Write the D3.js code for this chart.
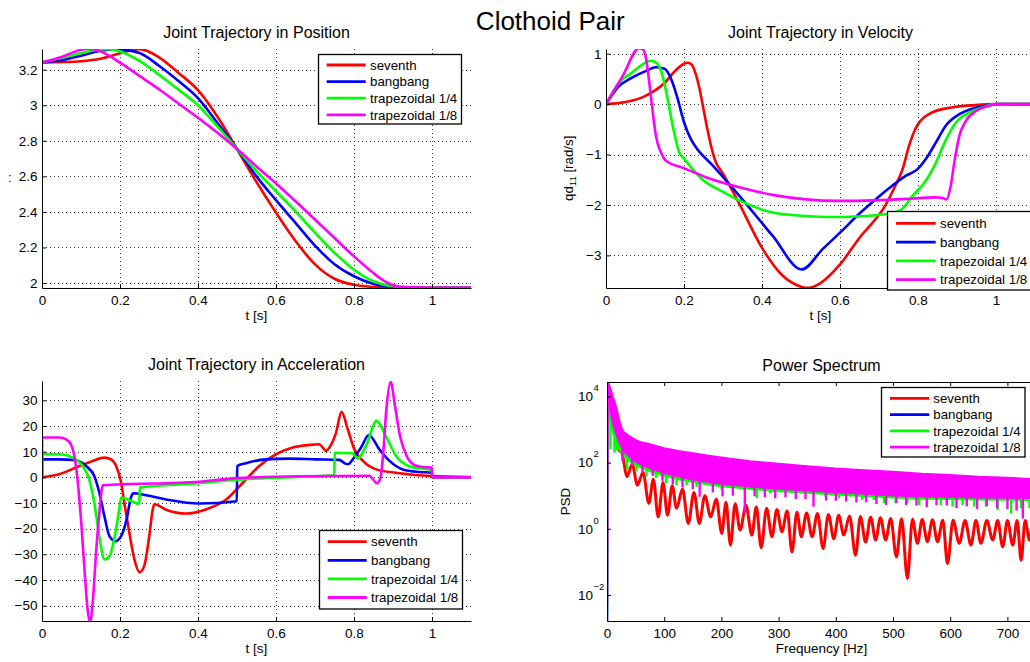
<!DOCTYPE html>
<html>
<head>
<meta charset="utf-8">
<script src="https://cdn.jsdelivr.net/npm/d3@7"></script>
<style>
  body { margin: 0; background: #fff; }
  svg { display: block; font-family: "Liberation Sans", Arial, Helvetica, sans-serif; }
</style>
</head>
<body>
<svg id="fig" width="1030" height="662"></svg>
<script>
// ---------- series ----------
const seriesNames = ["seventh", "bangbang", "trapezoidal 1/4", "trapezoidal 1/8"];
const seriesColors = ["#ff0000", "#0000ff", "#00ff00", "#ff00ff"];

// ---------- ticks ----------
const timeTicks = [0, 0.2, 0.4, 0.6, 0.8, 1];
const posTicks = [2, 2.2, 2.4, 2.6, 2.8, 3, 3.2];
const velTicks = [-3, -2, -1, 0, 1];
const accTicks = [-50, -40, -30, -20, -10, 0, 10, 20, 30];
const freqTicks = [0, 100, 200, 300, 400, 500, 600, 700];
const psdTicks = [1e-2, 1, 1e2, 1e4];

// ---------- joint position [t, q] ----------
const posSeventh = [[0,3.241],[0.05,3.243],[0.1,3.248],[0.15,3.262],[0.2,3.292],[0.25,3.316],[0.3,3.27],[0.35,3.182],[0.4,3.085],[0.45,2.935],[0.5,2.754],[0.55,2.568],[0.6,2.396],[0.65,2.236],[0.7,2.105],[0.75,2.024],[0.8,1.99],[0.85,1.978],[0.9,1.975],[1.1,1.975]];
const posBangbang = [[0,3.241],[0.05,3.253],[0.1,3.279],[0.15,3.307],[0.19,3.316],[0.25,3.294],[0.3,3.222],[0.35,3.136],[0.4,3.04],[0.45,2.9],[0.5,2.754],[0.55,2.6],[0.6,2.466],[0.65,2.338],[0.7,2.21],[0.75,2.106],[0.8,2.038],[0.85,1.995],[0.9,1.978],[0.95,1.975],[1.1,1.975]];
const posTrap4 = [[0,3.241],[0.05,3.266],[0.1,3.294],[0.15,3.314],[0.17,3.316],[0.2,3.303],[0.25,3.25],[0.3,3.172],[0.35,3.088],[0.4,3.0],[0.45,2.88],[0.5,2.754],[0.55,2.63],[0.6,2.516],[0.65,2.403],[0.7,2.283],[0.75,2.17],[0.8,2.075],[0.85,2.01],[0.9,1.982],[0.95,1.976],[1.1,1.975]];
const posTrap8 = [[0,3.241],[0.05,3.272],[0.1,3.312],[0.12,3.318],[0.15,3.303],[0.2,3.24],[0.25,3.165],[0.3,3.09],[0.35,3.01],[0.4,2.93],[0.45,2.845],[0.5,2.754],[0.55,2.656],[0.6,2.56],[0.65,2.46],[0.7,2.357],[0.75,2.253],[0.8,2.15],[0.85,2.056],[0.875,2.015],[0.9,1.988],[0.93,1.977],[1.0,1.975],[1.1,1.975]];

// ---------- joint velocity [t, qd] ----------
const velSeventh = [[0,0],[0.05,0.04],[0.1,0.16],[0.15,0.42],[0.18,0.68],[0.2,0.8],[0.21,0.82],[0.22,0.78],[0.23,0.6],[0.24,0.3],[0.25,-0.1],[0.26,-0.5],[0.27,-0.85],[0.28,-1.12],[0.3,-1.38],[0.34,-1.95],[0.4,-2.85],[0.45,-3.38],[0.5,-3.62],[0.52,-3.645],[0.55,-3.55],[0.6,-3.18],[0.65,-2.65],[0.717,-2.0],[0.74,-1.65],[0.76,-1.3],[0.777,-0.83],[0.79,-0.55],[0.8,-0.4],[0.835,-0.17],[0.886,-0.066],[0.946,-0.02],[1,0],[1.1,0]];
const velBangbang = [[0,0],[0.034,0.36],[0.068,0.53],[0.103,0.66],[0.128,0.73],[0.15,0.7],[0.167,0.5],[0.184,0.1],[0.2,-0.36],[0.218,-0.7],[0.231,-0.86],[0.274,-1.22],[0.342,-1.82],[0.427,-2.61],[0.502,-3.28],[0.556,-2.87],[0.6,-2.55],[0.65,-2.17],[0.7,-1.83],[0.734,-1.62],[0.769,-1.42],[0.799,-1.29],[0.82,-1.09],[0.846,-0.76],[0.872,-0.42],[0.906,-0.2],[0.95,-0.066],[0.99,-0.013],[1,0],[1.1,0]];
const velTrap4 = [[0,0],[0.034,0.43],[0.068,0.63],[0.094,0.79],[0.115,0.86],[0.132,0.8],[0.145,0.56],[0.158,0.1],[0.171,-0.43],[0.188,-0.96],[0.2,-1.08],[0.222,-1.29],[0.248,-1.5],[0.3,-1.74],[0.342,-1.91],[0.427,-2.15],[0.513,-2.22],[0.581,-2.24],[0.641,-2.23],[0.718,-2.18],[0.756,-2.1],[0.786,-1.82],[0.82,-1.52],[0.846,-1.16],[0.872,-0.7],[0.898,-0.36],[0.932,-0.166],[0.966,-0.066],[1,0],[1.1,0]];
const velTrap8 = [[0,0],[0.043,0.56],[0.085,1.11],[0.094,1.09],[0.103,0.89],[0.111,0.43],[0.12,-0.17],[0.128,-0.63],[0.141,-0.96],[0.155,-1.13],[0.2,-1.27],[0.256,-1.45],[0.342,-1.65],[0.427,-1.8],[0.513,-1.89],[0.598,-1.92],[0.684,-1.91],[0.769,-1.88],[0.846,-1.85],[0.862,-1.86],[0.873,-1.89],[0.884,-1.62],[0.893,-1.16],[0.906,-0.63],[0.923,-0.33],[0.95,-0.13],[0.983,-0.033],[1,0],[1.1,0]];

// ---------- joint acceleration [t, qdd] ----------
const accSeventh = [[0,0],[0.044,1.2],[0.096,4.4],[0.13,6.4],[0.16,7.7],[0.177,7.0],[0.19,4.4],[0.203,-2.1],[0.211,-9.9],[0.224,-21.6],[0.237,-32],[0.25,-37],[0.262,-34.6],[0.275,-22.9],[0.284,-12.5],[0.288,-10.5],[0.318,-12.6],[0.369,-14.1],[0.42,-12.5],[0.472,-8.6],[0.515,-2.1],[0.557,4.4],[0.6,9],[0.643,11.6],[0.685,12.6],[0.711,12.9],[0.72,11.6],[0.728,10.3],[0.737,11.6],[0.754,17.4],[0.768,25.5],[0.784,18.75],[0.801,10.9],[0.823,6.4],[0.857,3.1],[0.917,1.6],[1.0,0.5],[1.1,0.1]];
const accBangbang = [[0,0],[0.0005,7],[0.044,7],[0.079,6.8],[0.113,4.4],[0.134,0.5],[0.147,-6],[0.16,-15.1],[0.173,-22.9],[0.188,-24.9],[0.203,-22.9],[0.217,-16.4],[0.228,-7.9],[0.234,-6.2],[0.267,-7],[0.318,-8.6],[0.403,-10.2],[0.4995,-9.3],[0.5005,4.4],[0.523,5.5],[0.574,7],[0.634,7.3],[0.703,7],[0.762,6.8],[0.777,5.4],[0.784,5.1],[0.8,7.7],[0.818,11.6],[0.838,16.5],[0.865,10.9],[0.891,6.4],[0.925,3.1],[0.968,2.1],[0.9995,1.8],[1.0005,0],[1.1,0]];
const accTrap4 = [[0,0],[0.0005,9],[0.044,9],[0.079,7.7],[0.104,4.4],[0.121,-0.8],[0.134,-9.9],[0.147,-22.9],[0.16,-32],[0.173,-30.7],[0.185,-24.2],[0.198,-12.5],[0.203,-7.9],[0.224,-8.9],[0.2495,-10.3],[0.2505,-4],[0.403,-2.3],[0.489,-1],[0.574,-0.3],[0.7495,0.8],[0.7505,9.6],[0.796,9.4],[0.809,7.3],[0.83,12],[0.858,22],[0.882,16],[0.908,8.3],[0.943,4.2],[0.9995,2.7],[1.0005,0],[1.1,0]];
const accTrap8 = [[0,0],[0.0005,15.5],[0.044,15.5],[0.062,14.8],[0.074,12.9],[0.083,8.3],[0.091,-0.8],[0.1,-16.4],[0.109,-36],[0.117,-51.6],[0.123,-56.5],[0.13,-49],[0.138,-30.7],[0.147,-13.8],[0.156,-3.1],[0.403,-1.7],[0.5,-0.3],[0.66,0.4],[0.84,0.6],[0.849,-0.8],[0.859,-2.3],[0.868,-0.1],[0.875,9.6],[0.883,26.6],[0.894,37.2],[0.905,27.9],[0.918,16.1],[0.935,8.3],[0.956,4.7],[0.978,4.0],[0.9995,3.8],[1.0005,0],[1.1,0]];

// ---------- power spectral density (log10 values) ----------
const psdEnvHz = [1,3,5,8,10,13,16,20,25,30,40,50,60,75,100,125,150,175,200,250,300,350,400,450,500,550,600,650,700,750];
const psdMagentaTop = [4.45,4.4,4.3,4.15,4.02,3.88,3.7,3.42,3.08,2.92,2.79,2.69,2.62,2.56,2.44,2.36,2.29,2.22,2.16,2.05,1.97,1.9,1.83,1.78,1.73,1.67,1.63,1.58,1.55,1.5];
const psdMagentaBottom = [4.0,3.8,3.6,3.35,3.18,3.0,2.85,2.65,2.48,2.33,2.16,2.02,1.93,1.83,1.68,1.57,1.48,1.41,1.35,1.27,1.2,1.15,1.1,1.05,1.0,0.97,0.95,0.94,0.93,0.92];
const psdGreenTop = [4.3,4.2,4.1,3.95,3.8,3.6,3.4,3.15,2.9,2.75,2.62,2.52,2.45,2.38,2.27,2.18,2.1,2.03,1.97,1.87,1.79,1.72,1.66,1.6,1.55,1.5,1.46,1.42,1.39,1.36];
const psdGreenBottom = [3.8,3.5,3.25,3.3,2.95,2.7,2.55,2.42,2.3,2.18,2.04,1.92,1.84,1.74,1.6,1.49,1.41,1.34,1.28,1.2,1.13,1.08,1.03,0.98,0.94,0.91,0.89,0.88,0.87,0.86];
const psdBlueTop = [4.35,4.25,4.1,3.9,3.75,3.55,3.35,3.1,2.85,2.7,2.58,2.48,2.4,2.32,2.2,2.1,2.02,1.95,1.9,1.8,1.72,1.65,1.6,1.54,1.5,1.45,1.41,1.38,1.35,1.32];
const psdBlueBottom = [3.9,3.6,3.35,3.2,3.0,2.8,2.65,2.5,2.35,2.25,2.1,1.98,1.9,1.8,1.66,1.55,1.46,1.39,1.33,1.25,1.18,1.12,1.08,1.03,0.99,0.96,0.94,0.92,0.91,0.9];
const psdDcLog = [4.6, -4.0, -2.55, -2.3];

const psdMagentaSpikeHz = [27,44,62,80,97,115,132,150,162,185,202,220,241,258,276,294,312,330,347,361,383,400,418,436,453,471,488,506,523,541,559,576,594,611,629,647,664,682,700,716,727,745];
const psdMagentaSpikeLog = [2.05,1.9,1.7,1.6,1.45,1.35,1.25,1.2,0.97,1.1,0.98,1.0,0.48,0.98,0.95,0.92,0.95,0.9,0.9,0.67,0.85,0.85,0.82,0.8,0.8,0.75,0.72,0.78,0.72,0.7,0.65,0.72,0.7,0.62,0.68,0.6,0.68,0.62,0.6,0.55,0.31,0.6];
const psdGreenSpikeHz = [6,13,17.5,35,51.5,69,85.4,102.9,121.6,139.2,156.7,180.1,200.6,219.9,239.8,262,285.4,302.9,323.4,343.9,361.4,381.9,405.3,425.7,446.2,466.7,484.2,504.7,525.2,545.6,563.2,583.6,604.1,621.6,642.1,662.6,683,706.4,724,738.6];
const psdGreenSpikeLog = [2.4,2.3,2.38,1.78,1.73,1.58,1.53,1.37,1.32,1.32,1.27,1.32,1.17,1.22,1.17,0.92,1.07,1.12,1.17,1.17,0.97,0.97,0.92,0.97,0.87,0.87,0.77,0.77,0.77,0.72,0.87,0.72,0.67,0.72,0.67,0.67,0.57,0.46,0.62,0.62];
const psdBlueSpikeHz = [9.5];
const psdBlueSpikeLog = [3.05];

const psdRed = [[0,4.6],[1,4.45],[3,4.2],[6,3.85],[10,3.45],[14,3.0],[18,2.55],[21,2.38],[26,2.3],[35.1,1.58],[44,1.95],[53.2,1.32],[63,1.7],[73.1,0.77],[81,1.5],[89.5,0.36],[98,1.4],[105.8,0.41],[114,1.3],[121.6,0.62],[132,1.2],[142.1,0.16],[152,1.1],[161.4,0.16],[171,1.0],[181.3,0.36],[191,0.9],[200.6,-0.14],[208,0.8],[215.8,-0.49],[224,0.76],[232.7,-0.04],[243,0.7],[253.2,-0.19],[261,0.66],[269.6,-0.57],[279,0.62],[288.3,-0.24],[297,0.58],[305.8,-0.09],[315,0.54],[323.4,-0.7],[332,0.5],[339.8,-0.24],[349,0.48],[358.5,-0.24],[368,0.46],[377.8,-0.6],[387,0.43],[396.5,-0.3],[405,0.41],[414,-0.19],[424,0.39],[434.5,-0.8],[443,0.37],[452.1,-0.4],[461,0.35],[469.6,-0.34],[478,0.33],[487.1,-0.34],[496,0.31],[505.9,-0.85],[515,0.3],[525.2,-1.5],[534,0.29],[542.7,-0.44],[551,0.28],[560.2,-0.39],[569,0.27],[577.8,-0.39],[587,0.26],[595.3,-1.05],[605,0.26],[615.8,-0.44],[626,0.25],[636.3,-0.49],[645,0.25],[653.8,-0.44],[664,0.25],[674.3,-0.34],[683,0.25],[691.8,-0.55],[700,0.25],[709.4,-0.49],[717,0.25],[724,-0.95],[731,0.25],[738.6,-0.34],[745,0.25],[750,0.2]];

// ---------- layout ----------
const FONT = '"Liberation Sans", Arial, Helvetica, sans-serif';
const frames = {
  pos: { x0: 42, x1: 471, y0: 49, y1: 288 },
  vel: { x0: 606, x1: 1035, y0: 49, y1: 288 },
  acc: { x0: 42, x1: 471, y0: 381, y1: 621 },
  psd: { x0: 607, x1: 1036, y0: 382, y1: 621 }
};
const legends = {
  pos: { x: 318.5, y: 54.5, w: 143, h: 69.5, row0: 65, step: 16.6, lx0: 326.7, lx1: 365.7, tx: 370 },
  vel: { x: 887.5, y: 211.5, w: 160, h: 78.5, row0: 223.3, step: 18.8, lx0: 896, lx1: 935.7, tx: 940 },
  acc: { x: 319.5, y: 530.5, w: 143, h: 78.5, row0: 541.7, step: 18.6, lx0: 327.7, lx1: 366.7, tx: 371 },
  psd: { x: 881.5, y: 387.5, w: 143.5, h: 69.5, row0: 398.3, step: 16.3, lx0: 890, lx1: 929.3, tx: 933.3 }
};

const svg = d3.select("#fig");
const fmt = d3.format("~g");

function styleAxis(sel) {
  sel.attr("font-family", FONT).attr("font-size", 13.5).attr("color", "#000");
  sel.select(".domain").attr("stroke-width", 1);
}

function addLegend(L) {
  const lg = svg.append("g");
  lg.append("rect").attr("x", L.x).attr("y", L.y).attr("width", L.w).attr("height", L.h)
    .attr("fill", "#fff").attr("stroke", "#000").attr("stroke-width", 1.3);
  const rows = lg.selectAll("g.row").data(seriesNames).join("g").attr("class", "row")
    .attr("transform", (d, i) => `translate(0,${L.row0 + i * L.step})`);
  rows.append("line").attr("x1", L.lx0).attr("x2", L.lx1)
    .attr("stroke", (d, i) => seriesColors[i]).attr("stroke-width", 2.8);
  rows.append("text").attr("x", L.tx).attr("dy", "0.36em").attr("font-size", 13.3).text(d => d);
}

function timePanel(P) {
  const f = frames[P.id];
  const x = d3.scaleLinear().domain([0, 1.1]).range([f.x0, f.x1]);
  const y = d3.scaleLinear().domain(P.yDomain).range([f.y1, f.y0]);
  const g = svg.append("g");

  // dotted grid
  const grid = g.append("g").attr("stroke", "#333").attr("stroke-width", 1).attr("stroke-dasharray", "1,3");
  grid.selectAll("line.gx").data(timeTicks.filter(d => d > 0)).join("line").attr("class", "gx")
    .attr("x1", d => Math.round(x(d)) + 0.5).attr("x2", d => Math.round(x(d)) + 0.5)
    .attr("y1", f.y0).attr("y2", f.y1);
  grid.selectAll("line.gy").data(P.yTicks).join("line").attr("class", "gy")
    .attr("x1", f.x0).attr("x2", f.x1)
    .attr("y1", d => Math.round(y(d)) + 0.5).attr("y2", d => Math.round(y(d)) + 0.5);

  // curves
  const clipId = "clip-" + P.id;
  g.append("clipPath").attr("id", clipId).append("rect")
    .attr("x", f.x0).attr("y", f.y0).attr("width", f.x1 - f.x0).attr("height", f.y1 - f.y0);
  const line = d3.line().x(d => x(d[0])).y(d => y(d[1])).curve(d3.curveMonotoneX);
  g.append("g").attr("clip-path", `url(#${clipId})`)
    .selectAll("path").data(P.series).join("path")
    .attr("d", line).attr("fill", "none")
    .attr("stroke", (d, i) => seriesColors[i]).attr("stroke-width", 2.6)
    .attr("stroke-linejoin", "round");

  // axes
  const ax = g.append("g").attr("transform", `translate(0,${f.y1})`)
    .call(d3.axisBottom(x).tickValues(timeTicks).tickFormat(fmt).tickSize(-4).tickSizeOuter(0).tickPadding(7.5));
  styleAxis(ax);
  const ay = g.append("g").attr("transform", `translate(${f.x0},0)`)
    .call(d3.axisLeft(y).tickValues(P.yTicks).tickFormat(fmt).tickSize(-4).tickSizeOuter(0).tickPadding(4.5));
  styleAxis(ay);

  g.append("text").attr("x", (f.x0 + f.x1) / 2).attr("y", f.y0 - 11.3)
    .attr("text-anchor", "middle").attr("font-size", 16).text(P.title);
  g.append("text").attr("x", (f.x0 + f.x1) / 2).attr("y", f.y1 + 31.5)
    .attr("text-anchor", "middle").attr("font-size", 13.5).text("t [s]");

  addLegend(legends[P.id]);
}

// figure title
svg.append("text").attr("x", 550.3).attr("y", 30).attr("text-anchor", "middle")
  .attr("font-size", 26).text("Clothoid Pair");

timePanel({ id: "pos", yDomain: [1.972, 3.3165], yTicks: posTicks,
  series: [posSeventh, posBangbang, posTrap4, posTrap8], title: "Joint Trajectory in Position" });
timePanel({ id: "vel", yDomain: [-3.647, 1.093], yTicks: velTicks,
  series: [velSeventh, velBangbang, velTrap4, velTrap8], title: "Joint Trajectory in Velocity" });
timePanel({ id: "acc", yDomain: [-55.98, 37.54], yTicks: accTicks,
  series: [accSeventh, accBangbang, accTrap4, accTrap8], title: "Joint Trajectory in Acceleration" });

// position y label (mostly outside the figure)
svg.append("text").attr("x", 10).attr("y", 182).attr("text-anchor", "middle")
  .attr("font-size", 12).text(":");

// velocity y label
const yl = svg.append("text").attr("transform", "translate(572.7,168.3) rotate(-90)")
  .attr("text-anchor", "middle").attr("font-size", 13.3);
yl.append("tspan").text("qd");
yl.append("tspan").attr("font-size", 9.5).attr("dy", 3.5).text("11");
yl.append("tspan").attr("dy", -3.5).text(" [rad/s]");

// ---------- power spectrum ----------
(function psdPanel() {
  const f = frames.psd;
  const x = d3.scaleLinear().domain([0, 750]).range([f.x0, f.x1]);
  const y = d3.scaleLog().domain([Math.pow(10, -2.787), Math.pow(10, 4.436)]).range([f.y1, f.y0]);
  const Y = v => y(Math.pow(10, v));
  const g = svg.append("g");
  g.append("clipPath").attr("id", "clip-psd").append("rect")
    .attr("x", f.x0).attr("y", f.y0).attr("width", f.x1 - f.x0).attr("height", f.y1 - f.y0);
  const plot = g.append("g").attr("clip-path", "url(#clip-psd)");

  // seventh: drawn as a single trace with rounded lobes between notches
  plot.append("path").datum(psdRed)
    .attr("d", d3.line().x(d => x(d[0])).y(d => Y(d[1])).curve(d3.curveMonotoneX))
    .attr("fill", "none").attr("stroke", seriesColors[0]).attr("stroke-width", 3)
    .attr("stroke-linejoin", "round");

  // other spectra: dense traces drawn as envelope band plus notches
  const bands = [
    { c: 1, top: psdBlueTop, bottom: psdBlueBottom, sHz: psdBlueSpikeHz, sLog: psdBlueSpikeLog },
    { c: 2, top: psdGreenTop, bottom: psdGreenBottom, sHz: psdGreenSpikeHz, sLog: psdGreenSpikeLog },
    { c: 3, top: psdMagentaTop, bottom: psdMagentaBottom, sHz: psdMagentaSpikeHz, sLog: psdMagentaSpikeLog }
  ];
  const area = d3.area().x(d => x(d.hz)).y0(d => Y(d.bottom)).y1(d => Y(d.top));
  const seg = d3.line().x(d => x(d[0])).y(d => Y(d[1]));
  const n = psdEnvHz.length;
  bands.forEach(b => {
    const col = seriesColors[b.c];
    const env = psdEnvHz.map((hz, i) => ({ hz, top: b.top[i], bottom: b.bottom[i] }));
    const bg = plot.append("g");
    bg.append("path").datum([[0, psdDcLog[b.c]], [psdEnvHz[0], b.top[0]]]).attr("d", seg)
      .attr("fill", "none").attr("stroke", col).attr("stroke-width", 2.5);
    bg.append("path").datum(env).attr("d", area)
      .attr("fill", col).attr("stroke", col).attr("stroke-width", 1.5).attr("stroke-linejoin", "round");
    const spikes = b.sHz.map((hz, k) => {
      const i = Math.max(0, d3.bisectRight(psdEnvHz, hz) - 1);
      const j = Math.min(i + 1, n - 1);
      return { hz, low: b.sLog[k], high: Math.max(b.bottom[i], b.bottom[j]) + 0.02 };
    });
    bg.selectAll("line").data(spikes).join("line")
      .attr("x1", d => x(d.hz)).attr("x2", d => x(d.hz))
      .attr("y1", d => Y(d.low)).attr("y2", d => Y(d.high))
      .attr("stroke", col).attr("stroke-width", 2.4);
  });

  // axes with box
  const ax = g.append("g").attr("transform", `translate(0,${f.y1})`)
    .call(d3.axisBottom(x).tickValues(freqTicks).tickFormat(d3.format("d")).tickSize(-4).tickSizeOuter(0).tickPadding(7.5));
  styleAxis(ax);
  const at = g.append("g").attr("transform", `translate(0,${f.y0})`)
    .call(d3.axisTop(x).tickValues(freqTicks).tickFormat("").tickSize(-4).tickSizeOuter(0));
  styleAxis(at);
  const ay = g.append("g").attr("transform", `translate(${f.x0},0)`)
    .call(d3.axisLeft(y).tickValues(psdTicks).tickFormat("").tickSize(-4).tickSizeOuter(0));
  styleAxis(ay);
  g.append("line").attr("x1", f.x1 + 0.5).attr("x2", f.x1 + 0.5).attr("y1", f.y0).attr("y2", f.y1 + 0.5)
    .attr("stroke", "#000");

  // power-of-ten labels
  const fmtExp = d3.format("d");
  const lab = g.append("g").attr("font-size", 13.5);
  psdTicks.forEach(v => {
    const yy = y(v);
    lab.append("text").attr("x", f.x0 - 14).attr("y", yy).attr("dy", "0.36em")
      .attr("text-anchor", "end").text("10");
    lab.append("text").attr("x", f.x0 - 13.6).attr("y", yy - 5.2)
      .attr("font-size", 9.5).attr("text-anchor", "start")
      .text(fmtExp(Math.round(Math.log10(v))));
  });

  g.append("text").attr("x", (f.x0 + f.x1) / 2).attr("y", f.y0 - 11.3)
    .attr("text-anchor", "middle").attr("font-size", 16).text("Power Spectrum");
  g.append("text").attr("x", (f.x0 + f.x1) / 2).attr("y", f.y1 + 31.5)
    .attr("text-anchor", "middle").attr("font-size", 13.5).text("Frequency [Hz]");
  g.append("text").attr("transform", `translate(570,${(f.y0 + f.y1) / 2}) rotate(-90)`)
    .attr("text-anchor", "middle").attr("font-size", 13.3).text("PSD");

  addLegend(legends.psd);
})();
</script>
</body>
</html>
